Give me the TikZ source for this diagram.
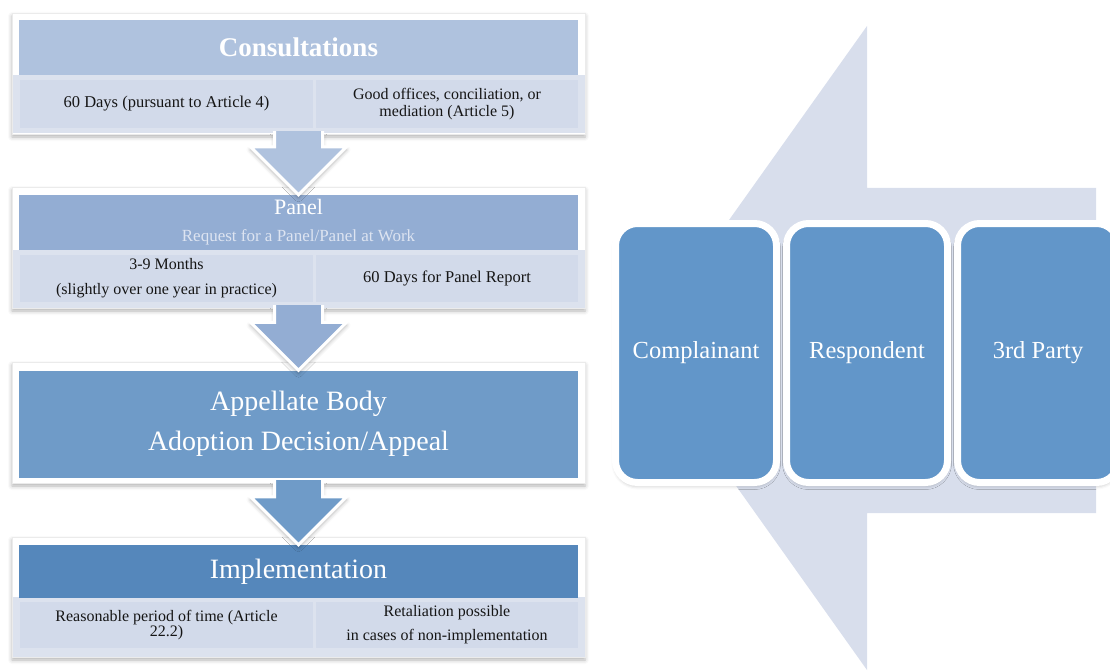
\documentclass[tikz,border=0pt]{standalone}
\usepackage{fontspec}
\setmainfont{Liberation Serif}
\usepackage{tikz}
\usetikzlibrary{calc,positioning,shadows.blur}
\definecolor{headA}{HTML}{AFC2DE}
\definecolor{headB}{HTML}{93ADD3}
\definecolor{headC}{HTML}{6F9BC8}
\definecolor{headD}{HTML}{5587BB}
\definecolor{bandbg}{HTML}{DCE2EE}
\definecolor{cellbg}{HTML}{D2DAEA}
\definecolor{celltext}{HTML}{151515}
\definecolor{paletext}{HTML}{DDE4F1}
\definecolor{partybg}{HTML}{6296C9}
\definecolor{bigarrowbg}{HTML}{D8DEEC}

\begin{document}
\begin{tikzpicture}[x=1pt,y=-1pt]
\tikzstyle{softshadow}=[blur shadow={shadow xshift=0pt, shadow yshift=-3pt, shadow blur radius=4pt, shadow opacity=30}]
\tikzstyle{frame}=[rectangle, fill=white, draw=black!8, softshadow, minimum width=573pt, inner sep=0pt]
\tikzstyle{head}=[rectangle, minimum width=559pt, inner sep=0pt, text=white, align=center]
\tikzstyle{band}=[rectangle, fill=bandbg, minimum width=572pt, inner sep=0pt]
\tikzstyle{cell}=[rectangle, fill=cellbg, inner sep=0pt, align=center, text=celltext]
\tikzstyle{flowarrow}=[draw=white, line width=3pt, line join=miter, softshadow]
\tikzstyle{party}=[rectangle, rounded corners=22pt, fill=partybg, draw=white, line width=7pt,
	minimum width=161pt, minimum height=259pt, inner sep=0pt, outer sep=0pt,
	text=white, font=\fontsize{24.5}{28}\selectfont, softshadow]

\useasboundingbox (0,0) rectangle (1110,671);

\fill[bigarrowbg] (638,348) -- (867,26) -- (867,188) -- (1096,188) -- (1096,513)
	-- (867,513) -- (867,670) -- cycle;

\node[party] (cmp) at (696,353) {Complainant};
\node[party, right=10pt of cmp] (rsp) {Respondent};
\node[party, right=10pt of rsp] (trd) {3rd Party};

\node[frame, minimum height=121pt] (f1) at (298.5,73.5) {};
\node[band, minimum height=58pt] (b1) at (299,104) {};
\node[head, fill=headA, minimum height=55pt, font=\bfseries\fontsize{27}{32}\selectfont] (h1) at (298.5,47.5) {Consultations};
\node[cell, minimum width=293pt, minimum height=48pt, font=\fontsize{16.5}{18}\selectfont] (c1a) at (166.5,104) {60 Days (pursuant to Article 4)};
\node[cell, minimum width=262pt, minimum height=48pt, font=\fontsize{16}{16.5}\selectfont] (c1b) at (447,104) {Good offices, conciliation, or\\mediation (Article 5)};

\node[frame, minimum height=121pt] (f2) at (298.5,247.5) {};
\node[band, minimum height=58pt] (b2) at (299,279) {};
\node[head, fill=headB, minimum height=55pt, font=\fontsize{22}{26}\selectfont] (h2) at (298.5,222.5)
	{Panel\\[1pt]{\color{paletext}\fontsize{17}{20}\selectfont Request for a Panel/Panel at Work}};
\node[cell, minimum width=293pt, minimum height=47pt, font=\fontsize{16}{25}\selectfont] (c2a) at (166.5,278.5) {3-9 Months\\(slightly over one year in practice)};
\node[cell, minimum width=262pt, minimum height=47pt, font=\fontsize{16.5}{18}\selectfont] (c2b) at (447,278.5) {60 Days for Panel Report};

\node[frame, minimum height=121pt] (f3) at (298.5,422.5) {};
\node[head, fill=headC, minimum height=107pt, font=\fontsize{28}{40}\selectfont] (h3) at (298.5,424) {Appellate Body\\Adoption Decision/Appeal};

\node[frame, minimum height=120pt] (f4) at (298.5,597) {};
\node[band, minimum height=60pt] (b4) at (299,627) {};
\node[head, fill=headD, minimum height=53pt, font=\fontsize{28}{32}\selectfont] (h4) at (298.5,571.5) {Implementation};
\node[cell, minimum width=293pt, minimum height=46pt, font=\fontsize{16}{15.5}\selectfont] (c4a) at (166.5,625) {Reasonable period of time (Article\\22.2)};
\node[cell, minimum width=262pt, minimum height=46pt, font=\fontsize{16}{24}\selectfont] (c4b) at (447,625) {Retaliation possible\\in cases of non-implementation};

\foreach \src/\dst/\col in {f1/h2/headA, f2/h3/headB, f3/h4/headC}
	\draw[flowarrow, fill=\col] ($(\src.south)+(-24,-3)$) -- ($(\dst.north)+(-24,-48)$)
		-- ($(\dst.north)+(-48,-48)$) -- (\dst.north) -- ($(\dst.north)+(48,-48)$)
		-- ($(\dst.north)+(24,-48)$) -- ($(\src.south)+(24,-3)$);
\end{tikzpicture}
\end{document}
